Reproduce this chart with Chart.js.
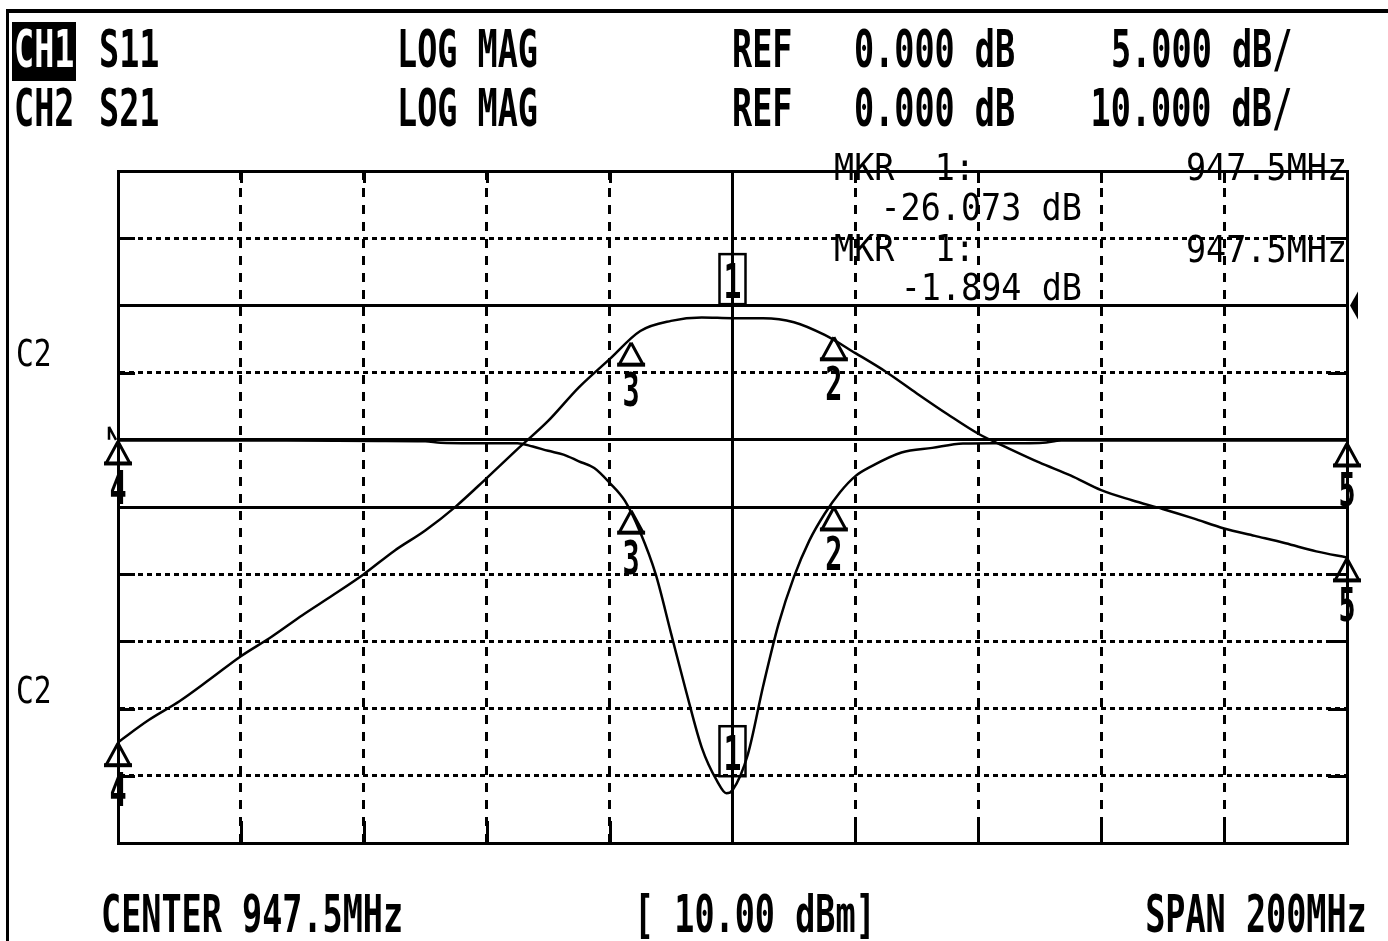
<!DOCTYPE html>
<html>
<head>
<meta charset="utf-8">
<script src="https://cdn.jsdelivr.net/npm/chart.js@4.4.1/dist/chart.umd.min.js"></script>
<style>
html,body{margin:0;padding:0;background:#fff;}
#wrap{position:relative;width:1388px;height:941px;overflow:hidden;background:#fff;}
#c{position:absolute;left:0;top:0;}
#frame{position:absolute;left:6px;top:9px;width:1500px;height:1100px;border-left:3px solid #000;border-top:4px solid #000;box-sizing:border-box;}
.t{position:absolute;white-space:pre;color:#000;font-family:"DejaVu Sans Mono",monospace;line-height:1;transform-origin:0 0;}
.r{transform-origin:100% 0 !important;}
.big{font-size:51px;font-weight:bold;transform:scaleX(0.656);}
.sm{font-size:38px;transform:scaleX(0.88);}
.c2{font-size:37px;transform:scaleX(0.8);}
#hl{position:absolute;left:12px;top:22px;width:64px;height:59px;background:#000;}
</style>
</head>
<body>
<div id="wrap">
  <div id="frame"></div>
  <canvas id="c" width="1388" height="941"></canvas>
  <div id="hl"></div>
  <div class="t big" style="left:14px;top:24px;color:#fff">CH1</div>
  <div class="t big" style="left:99px;top:24px">S11</div>
  <div class="t big" style="left:397px;top:24px">LOG MAG</div>
  <div class="t big" style="left:732px;top:24px">REF</div>
  <div class="t big" style="left:854px;top:24px">0.000 dB</div>
  <div class="t big r" style="right:96px;top:24px">5.000 dB/</div>
  <div class="t big" style="left:14px;top:83px">CH2</div>
  <div class="t big" style="left:99px;top:83px">S21</div>
  <div class="t big" style="left:397px;top:83px">LOG MAG</div>
  <div class="t big" style="left:732px;top:83px">REF</div>
  <div class="t big" style="left:854px;top:83px">0.000 dB</div>
  <div class="t big r" style="right:96px;top:83px">10.000 dB/</div>

  <div class="t sm" style="left:834px;top:148px">MKR  1:</div>
  <div class="t sm r" style="right:41px;top:148px">947.5MHz</div>
  <div class="t sm r" style="right:306px;top:188px">-26.073 dB</div>
  <div class="t sm" style="left:834px;top:229px">MKR  1:</div>
  <div class="t sm r" style="right:41px;top:230px">947.5MHz</div>
  <div class="t sm r" style="right:306px;top:268px">-1.894 dB</div>

  <div class="t c2" style="left:16px;top:335px">C2</div>
  <div class="t c2" style="left:16px;top:672px">C2</div>

  <div class="t big" style="left:101px;top:889px">CENTER 947.5MHz</div>
  <div class="t big" style="left:634px;top:889px">[ 10.00 dBm]</div>
  <div class="t big r" style="right:21px;top:889px">SPAN 200MHz</div>
</div>
<script>
// ---- instrument settings ----
const CENTER_MHZ = 947.5;
const SPAN_MHZ = 200;
const X_DIVS = 10;
const S21_REF = 0, S21_SCALE = 10, S21_REF_DIV = 2;   // ref line 2 divisions below top
const S11_REF = 0, S11_SCALE = 5,  S11_REF_DIV = 4;   // ref line 4 divisions below top
const Y_DIVS = 10;

// ---- S21 trace (dB) every 5 MHz ----
const freqS21 = [847.5,852.5,857.5,862.5,867.5,872.5,877.5,882.5,887.5,892.5,897.5,902.5,907.5,912.5,917.5,922.5,927.5,932.5,937.5,942.5,947.5,952.5,957.5,962.5,967.5,972.5,977.5,982.5,987.5,992.5,997.5,1002.5,1007.5,1012.5,1017.5,1022.5,1027.5,1032.5,1037.5,1042.5,1047.5];
const s21 = [-65.0,-61.7,-58.9,-55.6,-52.2,-49.3,-46.1,-43.1,-40.0,-36.5,-33.5,-29.9,-25.7,-21.4,-17.2,-12.2,-8.0,-3.8,-2.3,-1.8,-1.894,-1.9,-2.5,-4.4,-7.1,-9.9,-13.1,-16.2,-19.1,-21.3,-23.4,-25.3,-27.5,-29.0,-30.3,-31.7,-33.2,-34.3,-35.4,-36.6,-37.5];

// ---- S11 trace (dB) ----
const freqS11 = [847.5,860,875,890,897.5,900,905,910,912.5,915,917.5,920,922.5,925,927.5,930,932.5,935,937.5,940,942.5,945,946.5,947.5,950,952.5,955,957.5,960,962.5,965,967.5,970,975,980,985,990,995,998,1001,1025,1047.5];
const s11 = [-0.05,-0.05,-0.05,-0.08,-0.1,-0.22,-0.25,-0.25,-0.25,-0.5,-0.82,-1.1,-1.6,-2.1,-3.2,-4.55,-6.9,-10.0,-14.4,-18.8,-22.9,-25.4,-26.3,-26.073,-23.4,-18.3,-13.7,-10.2,-7.5,-5.5,-3.9,-2.7,-2.0,-0.95,-0.6,-0.28,-0.25,-0.25,-0.22,-0.05,-0.05,-0.05];

// ---- markers ----
const markerLabels = ['1','2','3','4','5'];
const markerFreqs = [947.5, 964, 931, 847.5, 1047.5];
const s21Markers = [-1.894, -4.6, -5.4, -65.0, -37.5];
const s11Markers = [-26.073, -4.96, -5.2, -0.05, -0.2];

// ---- graticule ----
const xMin = CENTER_MHZ - SPAN_MHZ/2, xMax = CENTER_MHZ + SPAN_MHZ/2;
const xTicks = Array.from({length: X_DIVS+1}, (_, i) => xMin + i*SPAN_MHZ/X_DIVS);
const s21Max = S21_REF + S21_REF_DIV*S21_SCALE, s21Min = s21Max - Y_DIVS*S21_SCALE;
const s11Max = S11_REF + S11_REF_DIV*S11_SCALE, s11Min = s11Max - Y_DIVS*S11_SCALE;
// solid horizontal lines: S21 reference, S11 reference, S11 one division below reference
const solidS21Rows = [S21_REF];
const solidS11Rows = [S11_REF, S11_REF - S11_SCALE];
const solidX = [CENTER_MHZ];

const BLACK = '#000', NONE = 'rgba(0,0,0,0)';
const zeroW = s => { s.width = 0; };
const zeroH = s => { s.height = 0; };
const near = (a, b) => Math.abs(a - b) < 1e-6;
const s21ToS11 = v => s11Max - (s21Max - v) / S21_SCALE * S11_SCALE;
const allSolidS11 = () => solidS11Rows.concat(solidS21Rows.map(s21ToS11));

function isDottedRow(v){           // v in S21 units
  if (near(v, s21Max) || near(v, s21Min)) return false;
  const y11 = s21ToS11(v);
  return !allSolidS11().some(s => near(s, y11));
}
function isSolidRow11(v){ return allSolidS11().some(s => near(s, v)); }
function isDashedCol(v){
  if (near(v, xMin) || near(v, xMax)) return false;
  return !solidX.some(s => near(s, v));
}

const endTicks = {
  id: 'endTicks',
  beforeDatasetsDraw(chart){
    const {ctx, chartArea: a, scales} = chart;
    ctx.save();
    ctx.strokeStyle = BLACK; ctx.lineWidth = 3; ctx.setLineDash([]);
    scales.y.ticks.forEach(t => {
      if (!isDottedRow(t.value)) return;
      const y = Math.round(scales.y.getPixelForValue(t.value)) + 0.5;
      ctx.beginPath(); ctx.moveTo(a.left, y); ctx.lineTo(a.left + 17, y);
      ctx.moveTo(a.right - 19, y); ctx.lineTo(a.right, y); ctx.stroke();
    });
    scales.x.ticks.forEach(t => {
      if (!isDashedCol(t.value)) return;
      const x = Math.round(scales.x.getPixelForValue(t.value)) + 0.5;
      ctx.beginPath(); ctx.moveTo(x, a.top); ctx.lineTo(x, a.top + 12);
      ctx.moveTo(x, a.bottom - 22); ctx.lineTo(x, a.bottom); ctx.stroke();
    });
    ctx.restore();
  }
};

function digit(ctx, ch, cx, baseline, size){
  ctx.save();
  ctx.font = 'bold ' + size + 'px "DejaVu Sans Mono", monospace';
  ctx.textAlign = 'center'; ctx.textBaseline = 'alphabetic';
  ctx.translate(cx, baseline); ctx.scale(0.62, 1);
  ctx.fillStyle = BLACK; ctx.fillText(ch, 0, 0);
  ctx.restore();
}

const markerPlugin = {
  id: 'markers',
  afterDatasetsDraw(chart){
    const {ctx, scales, chartArea: a} = chart;
    const xs = scales.x;
    ctx.save();
    ctx.strokeStyle = BLACK; ctx.fillStyle = BLACK; ctx.setLineDash([]);
    const drawSet = (ys, vals) => {
      markerFreqs.forEach((f, i) => {
        const px = xs.getPixelForValue(f), py = ys.getPixelForValue(vals[i]);
        if (i === 0) {
          ctx.lineWidth = 2.5;
          ctx.beginPath(); ctx.moveTo(px, py); ctx.lineTo(px, py - 14); ctx.stroke();
          ctx.strokeRect(px - 13, py - 64, 26, 50);
          digit(ctx, markerLabels[i], px, py - 20, 48);
        } else {
          ctx.lineWidth = 3;
          ctx.beginPath(); ctx.moveTo(px, py + 1); ctx.lineTo(px - 12, py + 23);
          ctx.moveTo(px, py + 1); ctx.lineTo(px + 12, py + 23); ctx.stroke();
          ctx.lineWidth = 4;
          ctx.beginPath(); ctx.moveTo(px - 14, py + 23); ctx.lineTo(px + 14, py + 23); ctx.stroke();
          digit(ctx, markerLabels[i], px, py + 64, 46);
        }
      });
    };
    drawSet(scales.y, s21Markers);
    drawSet(scales.y2, s11Markers);
    // reference position indicators
    const r21 = scales.y.getPixelForValue(S21_REF);
    ctx.beginPath(); ctx.moveTo(a.right + 3, r21); ctx.lineTo(a.right + 11, r21 - 14);
    ctx.lineTo(a.right + 11, r21 + 14); ctx.closePath(); ctx.fill();
    const r11 = scales.y2.getPixelForValue(S11_REF);
    ctx.lineWidth = 2.5;
    ctx.beginPath(); ctx.moveTo(a.left - 9, r11 - 13); ctx.lineTo(a.left - 9, r11);
    ctx.moveTo(a.left - 9, r11 - 13); ctx.lineTo(a.left - 2, r11); ctx.stroke();
    ctx.restore();
  }
};

new Chart(document.getElementById('c'), {
  type: 'line',
  data: {
    datasets: [
      { label: 'S21', data: freqS21.map((f, i) => ({x: f, y: s21[i]})), xAxisID: 'x', yAxisID: 'y',
        borderColor: BLACK, borderWidth: 2.5, pointRadius: 0, cubicInterpolationMode: 'monotone', fill: false },
      { label: 'S11', data: freqS11.map((f, i) => ({x: f, y: s11[i]})), xAxisID: 'x', yAxisID: 'y2',
        borderColor: BLACK, borderWidth: 2.5, pointRadius: 0, cubicInterpolationMode: 'monotone', fill: false }
    ]
  },
  options: {
    responsive: false, animation: false, devicePixelRatio: 1,
    layout: { autoPadding: false, padding: { left: 118, right: 41, top: 171, bottom: 98 } },
    plugins: { legend: { display: false }, tooltip: { enabled: false }, title: { display: false } },
    scales: {
      x: { type: 'linear', position: 'bottom', min: xMin, max: xMax,
        afterBuildTicks: s => { s.ticks = xTicks.map(v => ({value: v})); }, afterFit: zeroH,
        ticks: { display: false },
        grid: { drawTicks: false, lineWidth: 3, color: c => isDashedCol(c.tick.value) ? BLACK : NONE },
        border: { display: true, width: 3, color: BLACK, dash: [9, 8] } },
      xs: { type: 'linear', position: 'top', min: xMin, max: xMax,
        afterBuildTicks: s => { s.ticks = xTicks.map(v => ({value: v})); }, afterFit: zeroH,
        ticks: { display: false },
        grid: { drawTicks: false, lineWidth: 3, color: c => solidX.some(s => near(s, c.tick.value)) ? BLACK : NONE },
        border: { display: true, width: 3, color: BLACK } },
      y: { type: 'linear', position: 'left', min: s21Min, max: s21Max, afterFit: zeroW,
        ticks: { display: false, stepSize: S21_SCALE },
        grid: { drawTicks: false, lineWidth: 3, color: c => isDottedRow(c.tick.value) ? BLACK : NONE },
        border: { display: true, width: 3, color: BLACK, dash: [5, 4] } },
      y2: { type: 'linear', position: 'right', min: s11Min, max: s11Max, afterFit: zeroW,
        ticks: { display: false, stepSize: S11_SCALE },
        grid: { drawTicks: false, lineWidth: 3, color: c => isSolidRow11(c.tick.value) ? BLACK : NONE },
        border: { display: true, width: 3, color: BLACK } }
    }
  },
  plugins: [endTicks, markerPlugin]
});
</script>
</body>
</html>
